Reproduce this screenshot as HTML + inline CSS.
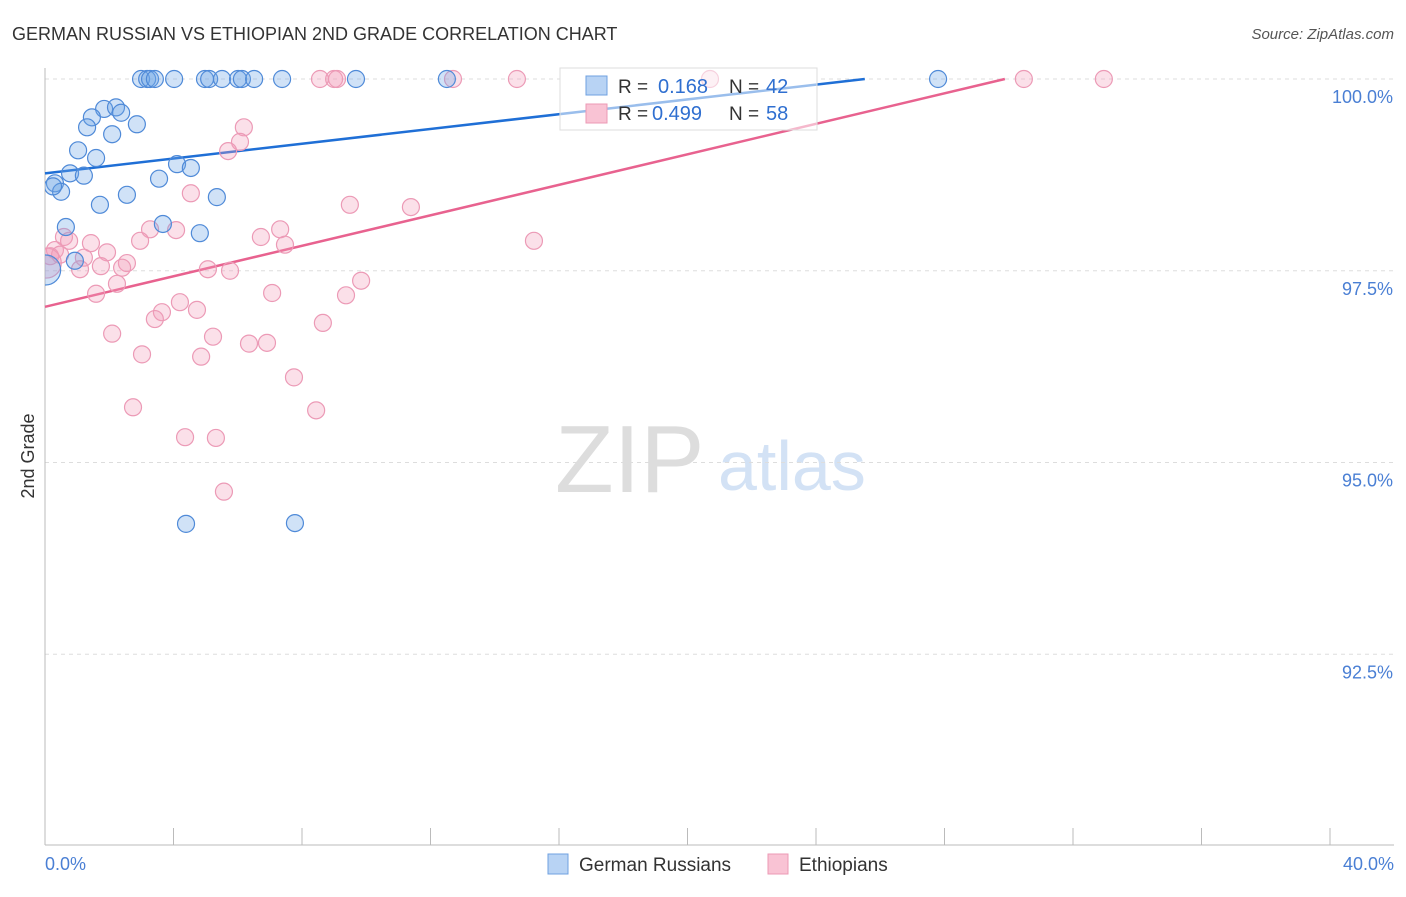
<!DOCTYPE html>
<html><head><meta charset="utf-8"><style>
body{margin:0;background:#fff;font-family:"Liberation Sans",sans-serif;}
svg text{font-family:"Liberation Sans",sans-serif;}
</style></head><body>
<svg id="chart" width="1406" height="892">
<defs><clipPath id="plotclip"><rect x="45" y="60" width="1360" height="786"/></clipPath></defs>
<text x="12" y="40" font-size="18" fill="#333">GERMAN RUSSIAN VS ETHIOPIAN 2ND GRADE CORRELATION CHART</text>
<text x="1394" y="39" font-size="15" fill="#555" text-anchor="end" font-style="italic">Source: ZipAtlas.com</text>
<text x="34" y="456" font-size="18" fill="#333" transform="rotate(-90 34 456)" text-anchor="middle">2nd Grade</text>
<g>
<text x="555" y="492" font-size="96" fill="#ddd" font-family="Liberation Serif,serif">ZIP</text>
<text x="718" y="490" font-size="70" fill="#d3e2f5">atlas</text>
</g>
<g id="grid"></g><g id="axes"></g>
<g><rect x="560" y="68" width="257" height="62" fill="#fff" stroke="#ddd"/></g>
<g id="lines" opacity="1"></g><g id="pts" clip-path="url(#plotclip)"></g>
<g>
<rect x="560" y="68" width="257" height="62" fill="rgba(255,255,255,0.55)" stroke="#ddd"/>
<rect x="586" y="76" width="21" height="19" fill="#b8d3f4" stroke="#6fa0e0"/>
<rect x="586" y="104" width="21" height="19" fill="#f9c3d4" stroke="#ec99b5"/>
<text x="618" y="93" font-size="19" fill="#333">R = </text><text x="658" y="93" font-size="20" fill="#2f6fd0">0.168</text>
<text x="729" y="93" font-size="19" fill="#333">N = </text><text x="766" y="93" font-size="20" fill="#2f6fd0">42</text>
<text x="618" y="120" font-size="19" fill="#333">R = </text><text x="652" y="120" font-size="20" fill="#2f6fd0">0.499</text>
<text x="729" y="120" font-size="19" fill="#333">N = </text><text x="766" y="120" font-size="20" fill="#2f6fd0">58</text>
</g>
<g>
<rect x="548" y="854" width="20" height="20" fill="#b8d3f4" stroke="#6fa0e0"/>
<text x="579" y="871" font-size="19" fill="#333">German Russians</text>
<rect x="768" y="854" width="20" height="20" fill="#f9c3d4" stroke="#ec99b5"/>
<text x="799" y="871" font-size="19" fill="#333">Ethiopians</text>
</g>
</svg>
<script>
const yTicks=[92.5,95.0,97.5,100.0];
const xTickCount=10;
const blueX=[2.99,3.18,3.27,3.42,4.02,4.98,5.11,5.51,6.01,6.13,6.51,7.38,9.68,12.51,27.80,1.84,2.21,2.37,1.46,1.31,2.86,2.09,1.03,1.59,0.78,1.21,0.31,0.50,0.02,1.71,2.55,3.55,4.11,4.54,5.35,0.65,3.67,4.82,0.93,4.39,7.78,0.25];
const blueY=[100,100,100,100,100,100,100,100,100,100,100,100,100,100,100,99.61,99.63,99.56,99.50,99.37,99.41,99.28,99.07,98.97,98.77,98.74,98.64,98.53,97.51,98.36,98.49,98.70,98.89,98.84,98.46,98.07,98.11,97.99,97.63,94.20,94.21,98.60];
const pinkX=[8.56,9.00,9.09,12.70,14.69,20.70,30.47,32.96,6.19,6.07,5.70,4.54,9.49,11.39,15.22,0.59,0.75,1.43,1.93,0.31,0.16,0.47,1.21,3.27,4.08,2.96,6.72,7.32,7.47,2.55,2.40,1.74,1.09,5.07,5.76,2.24,9.84,1.59,7.07,9.37,4.20,3.64,4.73,3.42,8.65,2.09,5.23,6.35,6.91,3.02,4.86,7.75,2.74,8.44,4.36,5.32,5.57,0.04];
const pinkY=[100,100,100,100,100,100,100,100,99.37,99.18,99.06,98.51,98.36,98.33,97.89,97.94,97.89,97.86,97.74,97.77,97.69,97.71,97.67,98.04,98.03,97.89,97.94,98.04,97.84,97.60,97.54,97.56,97.52,97.52,97.50,97.33,97.37,97.20,97.21,97.18,97.09,96.96,96.99,96.87,96.82,96.68,96.64,96.55,96.56,96.41,96.38,96.11,95.72,95.68,95.33,95.32,94.62,97.60];
const blueTrend=[98.77,0.0482];
const pinkTrend=[97.03,0.0994];
const NS="http://www.w3.org/2000/svg";
const sx=v=>45+v*1285/40;
const sy=v=>79+(100-v)*76.7;
function mk(tag,attrs,parent){const e=document.createElementNS(NS,tag);for(const k in attrs)e.setAttribute(k,attrs[k]);document.getElementById(parent).appendChild(e);return e;}
yTicks.forEach(t=>{
 const l=mk('line',{x1:45,x2:1394,y1:sy(t),y2:sy(t),stroke:'#ddd','stroke-dasharray':'4,4'},'grid');
 
 
 const tx=mk('text',{x:1393,y:sy(t)+24,'font-size':18,fill:'#4a7fd4','text-anchor':'end'},'grid');
 tx.textContent=t.toFixed(1)+'%';
 
 
});
const ax=mk('line',{x1:45,x2:45,y1:68,y2:845,stroke:'#bbb'},'axes');


const bx=mk('line',{x1:45,x2:1394,y1:845,y2:845,stroke:'#bbb'},'axes');


for(let i=0;i<=xTickCount;i++){
 const v=i*4;
 const t=mk('line',{x1:sx(v),x2:sx(v),y1:828,y2:845,stroke:'#bbb'},'axes');
 
 
}
[[0,'0.0%','start',45],[40,'40.0%','end',1394]].forEach(d=>{
 const t=mk('text',{x:d[3],y:870,'font-size':18,fill:'#4a7fd4','text-anchor':d[2]},'axes');
 t.textContent=d[1];
 
 
});
function trend(tr,color,name){
 const xEnd=Math.min(40,(100-tr[0])/tr[1]);
 const l=mk('line',{x1:sx(0),y1:sy(tr[0]),x2:sx(xEnd),y2:sy(tr[0]+tr[1]*xEnd),stroke:color,'stroke-width':2.5},'lines');
 
 
}
trend(blueTrend,'#1f6fd6','trend-line-german-russians');
trend(pinkTrend,'#e8628f','trend-line-ethiopians');
function pts(xs,ys,fill,stroke,name){
 xs.forEach((x,i)=>{
  const big=(x<0.05);
  const c=mk('circle',{cx:sx(x),cy:sy(ys[i]),r:big?15:8.5,fill:fill,stroke:stroke,'stroke-width':1.2},'pts');
  
  
 });
}
pts(pinkX,pinkY,'rgba(244,160,188,0.32)','#ec9ab6','ethiopians-point');
pts(blueX,blueY,'rgba(110,165,230,0.32)','#4f8ad8','german-russians-point');
</script>
</body></html>
